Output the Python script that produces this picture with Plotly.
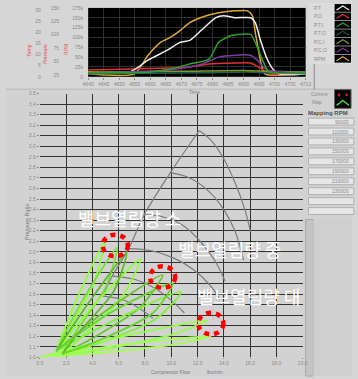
import plotly.graph_objects as go

W, H = 358, 379

# ---------------- compressor map data ----------------
flow_ticks = [0, 2, 4, 6, 8, 10, 12, 14, 16, 18, 20]
flow_labels = ["0.0", "2.0", "4.0", "6.0", "8.0", "10.0", "12.0", "14.0", "16.0", "18.0", "20.0"]
pr_ticks = [1.0, 1.1, 1.2, 1.3, 1.4, 1.5, 1.6, 1.7, 1.8, 1.9, 2.0, 2.1, 2.2, 2.3, 2.4,
            2.5, 2.6, 2.7, 2.8, 2.9, 3.0, 3.1, 3.2, 3.3, 3.4, 3.5]
pr_labels = ["1.0", "1.1", "1.2", "1.3", "1.4", "1.5", "1.6", "1.7", "1.8", "1.9", "2.0",
             "2.1", "2.2", "2.3", "2.4", "2.5", "2.6", "2.7", "2.8", "2.9", "3.0", "3.1",
             "3.2", "3.3", "3.4", "3.5"]

# surge line and constant-speed lines (grey)
surge_x = [4.78, 5.51, 6.76, 7.94, 9.93, 12.13]
surge_y = [1.58, 1.77, 2.03, 2.35, 2.75, 3.15]

speed_x = [
    [12.13, 13.00, 14.00, 14.90, 15.60, 16.03],
    [9.93, 11.40, 12.80, 14.00, 14.90, 15.50],
    [7.94, 9.40, 10.90, 12.20, 13.30, 14.10],
    [6.76, 8.50, 10.20, 11.70, 12.90, 13.70],
    [5.51, 7.20, 8.70, 10.00, 11.00],
    [4.78, 6.20, 7.50, 8.60],
]
speed_y = [
    [3.15, 3.06, 2.88, 2.64, 2.40, 2.19],
    [2.75, 2.70, 2.58, 2.40, 2.18, 1.92],
    [2.35, 2.33, 2.25, 2.10, 1.92, 1.72],
    [2.03, 2.01, 1.94, 1.83, 1.69, 1.55],
    [1.77, 1.74, 1.66, 1.54, 1.42],
    [1.58, 1.55, 1.47, 1.37],
]

# measured operating loops (green)
loop_x = [
    [1.25, 2.70, 4.93, 4.10, 2.40, 1.69],
    [1.25, 3.20, 5.88, 5.00, 2.90, 1.69],
    [1.25, 4.00, 7.65, 6.30, 3.40, 1.69],
    [1.25, 4.90, 9.34, 7.60, 4.00, 1.69],
    [1.25, 5.80, 10.74, 8.80, 4.60, 1.69],
    [0.00, 6.40, 12.72, 10.20, 5.00, 1.30],
    [0.00, 6.30, 13.01, 10.60, 5.20, 1.10],
    [1.25, 3.90, 6.60, 5.60, 3.00, 1.69],
    [1.25, 5.20, 10.10, 8.60, 4.50, 1.69],
]
loop_y = [
    [1.06, 1.52, 2.10, 1.70, 1.30, 1.03],
    [1.06, 1.53, 2.04, 1.66, 1.27, 1.03],
    [1.06, 1.48, 1.93, 1.58, 1.22, 1.03],
    [1.06, 1.43, 1.78, 1.47, 1.18, 1.03],
    [1.06, 1.36, 1.62, 1.36, 1.14, 1.03],
    [1.00, 1.20, 1.35, 1.22, 1.08, 1.02],
    [1.00, 1.12, 1.20, 1.13, 1.05, 1.01],
    [1.06, 1.55, 1.99, 1.62, 1.24, 1.03],
    [1.06, 1.41, 1.70, 1.42, 1.16, 1.03],
]
loop_colors = ["#8cff3c", "#74e030", "#8cff3c", "#66c82c", "#80f236",
               "#92ff44", "#a0ff50", "#5eb82a", "#6ad42e"]

# ---------------- time history data ----------------
time_ticks = [4640, 4645, 4650, 4655, 4660, 4665, 4670, 4675, 4680, 4685, 4690, 4695, 4700, 4705, 4710]

rpm_t = [4640, 4654.9, 4659.3, 4663.3, 4666.4, 4669.6, 4672.7, 4678.0, 4682.0, 4687.3,
         4691.3, 4692.9, 4693.8, 4695.4, 4696.9, 4710]
rpm_v = [7500, 7500, 55000, 87500, 100000, 117500, 137500, 155000, 162500, 167500,
         167500, 155000, 112500, 45000, 7500, 7500]

pt_t = [4640, 4653.4, 4659.3, 4665.5, 4669.6, 4672.7, 4676.7, 4681.1, 4683.6, 4687.3,
        4692.3, 4693.8, 4695.4, 4697.6, 4699.7, 4701.6, 4710]
pt_v = [2.2, 2.2, 7.5, 12.0, 15.5, 16.4, 21.3, 26.6, 27.5, 26.6, 26.6, 24.4, 16.8, 8.0, 3.1, 1.3, 1.3]

po_t = [4640, 4654.0, 4666.4, 4672.7, 4678.9, 4687.3, 4692.3, 4695.4, 4698.5, 4710]
po_v = [3.1, 3.5, 4.0, 4.4, 5.8, 6.2, 6.2, 4.0, 1.3, 1.3]

pti_t = [4640, 4660.2, 4666.4, 4672.7, 4678.9, 4682.0, 4686.1, 4688.2, 4692.3, 4693.8, 4696.0, 4698.2, 4710]
pti_v = [28.7, 30.5, 36.0, 45.2, 54.4, 85.6, 98.5, 100.4, 100.4, 85.6, 54.4, 30.5, 28.7]

pco_t = [4640, 4666.4, 4676.7, 4682.0, 4687.3, 4692.3, 4694.4, 4697.6, 4710]
pco_v = [28.7, 34.2, 45.2, 58.1, 61.7, 61.7, 52.6, 34.2, 28.7]

pto_t = [4640, 4675.8, 4691.3, 4697.6, 4710]
pto_v = [26.9, 28.7, 30.5, 28.7, 26.9]

pci_t = [4640, 4670.0, 4690.0, 4698.0, 4710]
pci_v = [30.5, 31.5, 33.0, 31.5, 30.5]

legend_names = ["P.T", "P.O", "P.T.I", "P.T.O", "P.C.I", "P.C.O", "RPM"]
legend_colors = ["#f0f0f0", "#e03030", "#2fa02f", "#1f6050", "#7a9a30", "#7a3aa0", "#d9a83a"]

rpm_ticks = [0, 25000, 50000, 75000, 100000, 125000, 150000, 175000]
pres_ticks = [0, 5, 10, 15, 20, 25, 30]
temp_ticks = [25, 50, 75, 100, 125, 150]

mapping_rpm = ["90000", "110000", "130000", "150000", "170000", "190000", "210000", "230000"]


def X(px):
    return px / W


def Y(py):
    return 1 - py / H


fig = go.Figure()

# grey speed lines
fig.add_trace(go.Scatter(x=surge_x, y=surge_y, mode="lines",
                         line=dict(color="#7c7c7c", width=1.2, shape="spline"),
                         hoverinfo="skip", showlegend=False))
for sx, sy in zip(speed_x, speed_y):
    fig.add_trace(go.Scatter(x=sx, y=sy, mode="lines",
                             line=dict(color="#7c7c7c", width=1.2, shape="spline"),
                             hoverinfo="skip", showlegend=False))

# green loops
for lx, ly, c in zip(loop_x, loop_y, loop_colors):
    fig.add_trace(go.Scatter(x=lx, y=ly, mode="lines",
                             line=dict(color=c, width=1.8, shape="spline", smoothing=0.7),
                             hoverinfo="skip", showlegend=False))

# time history traces
hist = [
    (pto_t, pto_v, legend_colors[3], "y4"),
    (pci_t, pci_v, legend_colors[4], "y4"),
    (po_t, po_v, legend_colors[1], "y3"),
    (pco_t, pco_v, legend_colors[5], "y4"),
    (pti_t, pti_v, legend_colors[2], "y4"),
    (pt_t, pt_v, legend_colors[0], "y3"),
    (rpm_t, rpm_v, legend_colors[6], "y2"),
]
for t, v, c, ya in hist:
    fig.add_trace(go.Scatter(x=t, y=v, xaxis="x2", yaxis=ya, mode="lines",
                             line=dict(color=c, width=1.5, shape="spline", smoothing=0.6),
                             hoverinfo="skip", showlegend=False))

tick_font = dict(family="Liberation Sans, Arial", size=5, color="#8a8a8a")

shapes = []
annotations = []

# panel frames
shapes.append(dict(type="rect", xref="paper", yref="paper", x0=0, x1=1, y0=Y(88), y1=Y(379),
                   fillcolor="#d2d2d2", line=dict(width=0), layer="below"))
shapes.append(dict(type="line", xref="paper", yref="paper", x0=0, x1=1, y0=Y(87.5), y1=Y(87.5),
                   line=dict(color="#b8b8b8", width=1), layer="below"))
# top-right legend box
shapes.append(dict(type="rect", xref="paper", yref="paper", x0=X(313), x1=X(358), y0=Y(62), y1=Y(0),
                   fillcolor="#dcdcdc", line=dict(width=0), layer="below"))
shapes.append(dict(type="line", xref="paper", yref="paper", x0=X(319), x1=X(319), y0=Y(88), y1=Y(62),
                   line=dict(color="#a0a0a0", width=1.5), layer="below"))
for i, (nm, c) in enumerate(zip(legend_names, legend_colors)):
    yc = 5 + i * 8.6
    shapes.append(dict(type="rect", xref="paper", yref="paper", x0=X(340), x1=X(357),
                       y0=Y(yc + 4), y1=Y(yc - 4), fillcolor="#000000", line=dict(width=0)))
    shapes.append(dict(type="path", xref="paper", yref="paper",
                       path="M {} {} L {} {} L {} {}".format(X(342), Y(yc + 2), X(348.5), Y(yc - 2),
                                                              X(355), Y(yc + 2)),
                       line=dict(color=c, width=1.2)))
    annotations.append(dict(xref="paper", yref="paper", x=X(317), y=Y(yc), text=nm, showarrow=False,
                            xanchor="left", yanchor="middle",
                            font=dict(family="Liberation Sans, Arial", size=5, color="#8a8a8a")))

# current/map indicator
annotations.append(dict(xref="paper", yref="paper", x=X(313), y=Y(92), text="Current", showarrow=False,
                        xanchor="left", yanchor="middle", font=dict(family="Liberation Sans", size=5, color="#8a8a8a")))
annotations.append(dict(xref="paper", yref="paper", x=X(315), y=Y(101), text="Map", showarrow=False,
                        xanchor="left", yanchor="middle", font=dict(family="Liberation Sans", size=5, color="#8a8a8a")))
shapes.append(dict(type="rect", xref="paper", yref="paper", x0=X(340), x1=X(357), y0=Y(107), y1=Y(88),
                   fillcolor="#000000", line=dict(color="#606060", width=1)))
shapes.append(dict(type="circle", xref="paper", yref="paper", x0=X(343), x1=X(346), y0=Y(95), y1=Y(92),
                   fillcolor="#c02020", line=dict(width=0)))
shapes.append(dict(type="circle", xref="paper", yref="paper", x0=X(351), x1=X(354), y0=Y(95), y1=Y(92),
                   fillcolor="#c02020", line=dict(width=0)))
shapes.append(dict(type="path", xref="paper", yref="paper",
                   path="M {} {} L {} {} L {} {}".format(X(342), Y(104), X(348.5), Y(99), X(355), Y(104)),
                   line=dict(color="#40d040", width=1.5)))
annotations.append(dict(xref="paper", yref="paper", x=X(310), y=Y(112), text="<b>Mapping RPM</b>",
                        showarrow=False, xanchor="left", yanchor="middle",
                        font=dict(family="Liberation Sans", size=6, color="#505050")))
for i in range(10):
    y0 = 117 + i * 10.1
    shapes.append(dict(type="rect", xref="paper", yref="paper", x0=X(313), x1=X(360), y0=Y(y0 + 7),
                       y1=Y(y0), fillcolor="#e6e6e6", line=dict(color="#b0b0b0", width=1)))
    if i < len(mapping_rpm):
        annotations.append(dict(xref="paper", yref="paper", x=X(357), y=Y(y0 + 3.5), text=mapping_rpm[i],
                                showarrow=False, xanchor="right", yanchor="middle",
                                font=dict(family="Liberation Sans", size=5, color="#8a8a8a")))
# vertical slider under the boxes
shapes.append(dict(type="rect", xref="paper", yref="paper", x0=X(310), x1=X(318), y0=Y(379), y1=Y(220),
                   fillcolor="#c4c4c4", line=dict(color="#a8a8a8", width=1), layer="below"))
shapes.append(dict(type="rect", xref="paper", yref="paper", x0=X(318), x1=X(358), y0=Y(379), y1=Y(220),
                   fillcolor="#cfcfcf", line=dict(width=0), layer="below"))

# highlight circles around loop peaks
circles = [(5.74, 2.06), (9.34, 1.76), (13.01, 1.32)]
for cx, cy in circles:
    shapes.append(dict(type="circle", xref="x", yref="y",
                       x0=cx - 13 / 13.6, x1=cx + 13 / 13.6, y0=cy - 11 / 107.2, y1=cy + 11 / 107.2,
                       line=dict(color="#ff0000", width=4.5, dash="5px,5px")))

labels = [("밸브열림량 소", 128, 218), ("밸브열림량 중", 231, 250), ("밸브열림량 대", 251, 298)]
for txt, lx, ly in labels:
    annotations.append(dict(xref="paper", yref="paper", x=X(lx), y=Y(ly), text=txt, showarrow=False,
                            xanchor="center", yanchor="middle",
                            font=dict(family="Noto Sans CJK KR", size=18, color="#ffffff")))

# axis titles
annotations.append(dict(xref="paper", yref="paper", x=X(171), y=Y(374.5), text="Compressor Flow", showarrow=False,
                        yanchor="middle", font=dict(family="Liberation Sans", size=5, color="#7a7a7a")))
annotations.append(dict(xref="paper", yref="paper", x=X(216), y=Y(374.5), text="lbs/min", showarrow=False,
                        yanchor="middle", font=dict(family="Liberation Sans", size=5, color="#7a7a7a")))
annotations.append(dict(xref="paper", yref="paper", x=X(17), y=Y(222), text="Pressure Ratio", showarrow=False,
                        textangle=-90, font=dict(family="Liberation Sans", size=5.5, color="#7a7a7a")))
annotations.append(dict(xref="paper", yref="paper", x=X(195), y=Y(85), text="Time", showarrow=False,
                        font=dict(family="Liberation Sans", size=5, color="#7a7a7a")))
for txt, lx in [("Temp", 19), ("Pressure", 36), ("RPM", 57)]:
    annotations.append(dict(xref="paper", yref="paper", x=X(lx), y=Y(40), text=txt, showarrow=False,
                            textangle=-90, font=dict(family="Liberation Sans", size=5, color="#e05050")))

fig.update_layout(
    width=W, height=H, autosize=False,
    margin=dict(l=0, r=0, t=0, b=0, pad=0),
    paper_bgcolor="#d6d6d6", plot_bgcolor="#000000",
    showlegend=False,
    shapes=shapes, annotations=annotations,
    xaxis=dict(domain=[X(35), X(307)], range=[0, 20], tickvals=flow_ticks, ticktext=flow_labels,
               showgrid=True, gridcolor="#333333", gridwidth=1, zeroline=False, showline=False,
               ticks="outside", ticklen=1, tickcolor="#8a8a8a", tickfont=tick_font, anchor="y"),
    yaxis=dict(domain=[Y(360), Y(92)], range=[1.0, 3.5], tickvals=pr_ticks, ticktext=pr_labels,
               showgrid=True, gridcolor="#333333", gridwidth=1, zeroline=False, showline=False,
               ticks="outside", ticklen=2, tickcolor="#8a8a8a", tickfont=tick_font, anchor="x"),
    xaxis2=dict(domain=[X(85), X(310)], range=[4640, 4710], tickvals=time_ticks,
                showgrid=True, gridcolor="#2e2e2e", zeroline=False, showline=False,
                ticks="outside", ticklen=2, tickcolor="#8a8a8a", tickfont=tick_font, anchor="y2"),
    yaxis2=dict(domain=[Y(75), Y(5)], range=[0, 175000], tickvals=rpm_ticks,
                showgrid=True, gridcolor="#2e2e2e", zeroline=False, showline=False,
                ticks="outside", ticklen=3, tickcolor="#d6d6d6", tickfont=tick_font, anchor="x2"),
    yaxis3=dict(domain=[Y(75), Y(5)], range=[0, 31], tickvals=pres_ticks, overlaying="y2",
                anchor="free", position=X(36), showgrid=False, zeroline=False, showline=False,
                tickfont=tick_font, side="left"),
    yaxis4=dict(domain=[Y(75), Y(5)], range=[21.3, 150], tickvals=temp_ticks, overlaying="y2",
                anchor="free", position=X(55), showgrid=False, zeroline=False, showline=False,
                tickfont=tick_font, side="left"),
)

fig.write_html("out.html")
